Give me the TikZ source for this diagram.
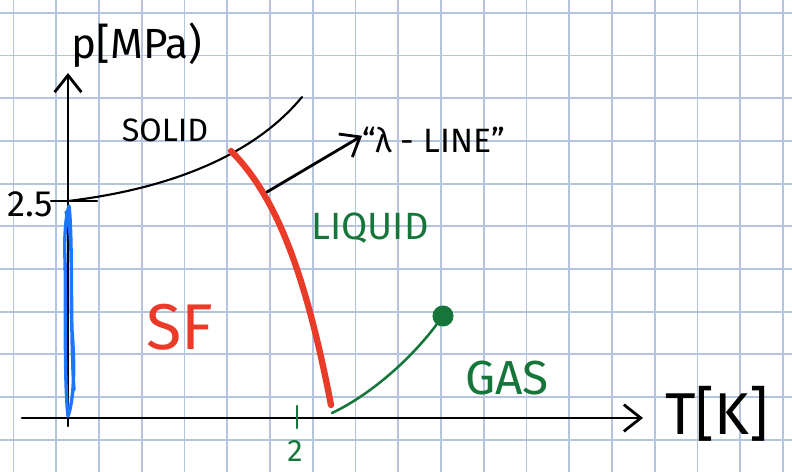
\documentclass[tikz,border=0pt]{standalone}
\usepackage{fontspec}
\setmainfont{Fira Sans}
\usetikzlibrary{arrows.meta}

\definecolor{gridblue}{RGB}{180,196,222}
\definecolor{sfred}{RGB}{234,58,40}
\definecolor{phasegreen}{RGB}{22,118,58}
\definecolor{heblue}{RGB}{28,118,255}

\begin{document}
\begin{tikzpicture}[x=0.025cm, y=-0.025cm,
    ink/.style={line width=2pt, line cap=round},
    openv/.style={-{Straight Barb[length=12pt, width=19pt, line width=2pt]}},
    hand/.style={inner sep=0pt, font=\fontsize{26}{28}\selectfont}
]
    \useasboundingbox (0,0) rectangle (792,472);

    % squared paper
    \foreach \k in {0,...,18}
        \draw[gridblue, line width=1.3pt] ({13.5+42.75*\k},0) -- ++(0,472);
    \foreach \k in {0,...,10}
        \draw[gridblue, line width=1.3pt] (0,{12.8+42.7*\k}) -- ++(792,0);

    % axes
    \coordinate (pfoot) at (68,426);
    \coordinate (ptop) at (68,73);
    \coordinate (tfoot) at (22,418);
    \coordinate (ttop) at (643,418);
    \draw[ink, openv] (pfoot) -- (ptop);
    \draw[ink, openv] (tfoot) -- (ttop);

    \node[hand, font=\fontsize{30}{32}\selectfont] (plabel) at (137,45) {p[MPa)};
    \node[hand, font=\fontsize{42}{44}\selectfont] (tlabel) at (717,414) {T[K]};

    % superfluid strip on the p axis
    \draw[heblue, line width=2.4pt, line cap=round, line join=round]
        (66,212) .. controls (74,230) and (70,300) .. (72,330)
        .. controls (76,380) and (72,405) .. (68,416)
        .. controls (64,380) and (66,300) .. (65,260)
        .. controls (64,235) and (66,215) .. (69,206)
        .. controls (73,240) and (70,330) .. (74,390);

    % melting curve
    \coordinate (meltp) at (68,201);
    \coordinate (meltend) at (302,97);
    \draw[ink, line width=1.5pt] (51,201) -- (97,201);
    \draw[ink, line width=1.5pt] (meltp) .. controls (160,190) and (250,160) .. (meltend);
    \node[hand] (pval) at (30,204) {2.5};
    \node[hand, font=\fontsize{23}{25}\selectfont] (solid) at (165,130) {SOLID};

    % lambda line
    \coordinate (lamtop) at (231,151);
    \coordinate (lambot) at (331,405);
    \draw[sfred, line width=4.5pt, line cap=round] (lamtop) .. controls (275,195) and (305,270) .. (lambot);
    \coordinate (lamfoot) at (267,192);
    \node[hand, anchor=west, font=\fontsize{24}{26}\selectfont] (lamlabel) at (362,140) {“λ - LINE”};
    \draw[ink, openv] (lamfoot) -- ([yshift=3pt]lamlabel.west);

    \node[hand, text=sfred, font=\fontsize{46}{48}\selectfont] (sf) at (180,327) {SF};
    \node[hand, text=phasegreen, font=\fontsize{27}{29}\selectfont] (liquid) at (370,228) {LIQUID};

    % vapour curve
    \coordinate (vapfoot) at (332,413);
    \node[circle, fill=phasegreen, minimum size=15pt, inner sep=0pt] (crit) at (443,316) {};
    \draw[phasegreen, line width=1.8pt, line cap=round] (vapfoot) .. controls (370,395) and (410,360) .. (crit);
    \node[hand, text=phasegreen, font=\fontsize{34}{36}\selectfont] (gas) at (507,378) {GAS};

    % tick at 2 K
    \coordinate (tickhi) at (297,406);
    \coordinate (ticklo) at (297,428);
    \draw[phasegreen, line width=1.8pt, line cap=round] (tickhi) -- (ticklo);
    \node[hand, text=phasegreen, font=\fontsize{22}{24}\selectfont] (tval) at (295,451) {2};
\end{tikzpicture}
\end{document}
